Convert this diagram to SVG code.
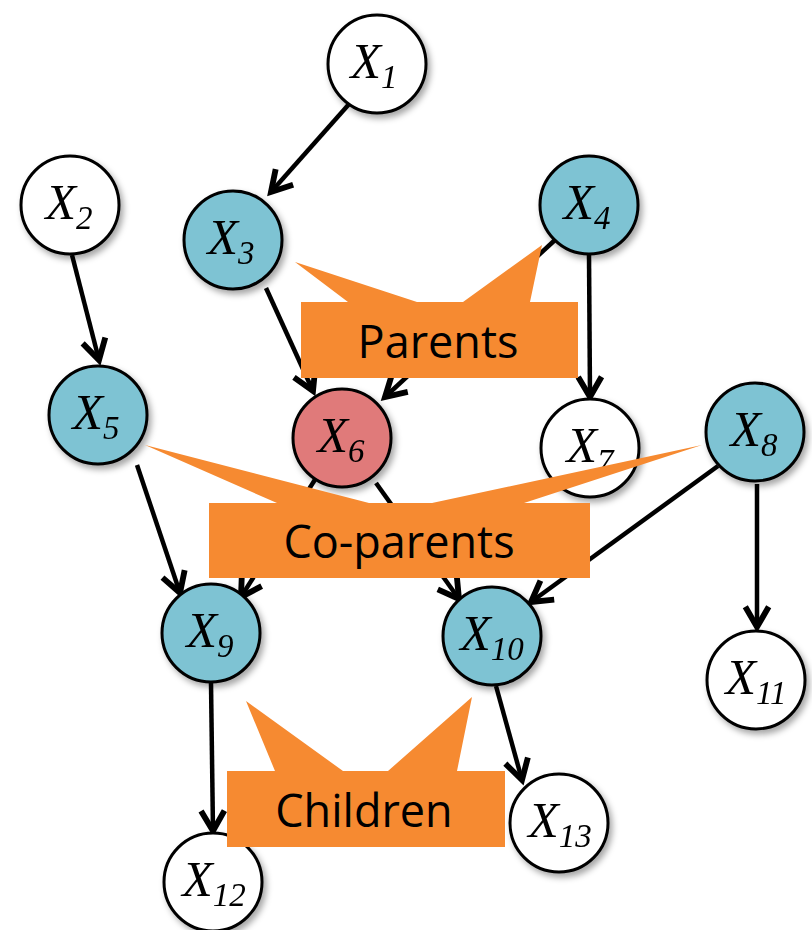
<svg xmlns="http://www.w3.org/2000/svg" width="812" height="930" viewBox="0 0 812 930">
  <defs>
    <style>
      .node circle { stroke: #000; stroke-width: 3; }
      .plain { fill: #ffffff; }
      .blanket { fill: #7ec3d3; }
      .target { fill: #e07a7a; }
      .lbl { font-family: "Liberation Serif", "Times New Roman", serif; font-style: italic; font-size: 50px; fill: #000; text-anchor: middle; }
      .sub { font-size: 33px; }
      .edges line { stroke: #000; stroke-width: 4.5; marker-end: url(#arrow); }
      .callout path { fill: #f68a31; }
      .callout text { font-family: "Open Sans", "Noto Sans", "DejaVu Sans", sans-serif; font-size: 45px; fill: #000; text-anchor: middle; }
    </style>
    <marker id="arrow" markerUnits="userSpaceOnUse" markerWidth="34" markerHeight="34" viewBox="-26 -16 32 32" refX="0" refY="0" orient="auto">
      <path d="M-19,-11 L0,0 L-19,11" fill="none" stroke="#000" stroke-width="5.5" stroke-linejoin="miter"/>
    </marker>
    <filter id="shadow" x="-30%" y="-30%" width="160%" height="160%">
      <feDropShadow dx="3" dy="4" stdDeviation="3" flood-color="#000" flood-opacity="0.35"/>
    </filter>
  </defs>

  <!-- directed edges -->
  <g id="edges" class="edges">
    <line x1="350" y1="103" x2="271" y2="192"/>
    <line x1="72" y1="255" x2="99" y2="360"/>
    <line x1="266" y1="288" x2="313" y2="391"/>
    <line x1="555" y1="240" x2="385" y2="397"/>
    <line x1="589" y1="255" x2="590" y2="397"/>
    <line x1="137" y1="465" x2="180" y2="593"/>
    <line x1="316" y1="478" x2="241" y2="597"/>
    <line x1="376" y1="483" x2="459" y2="599"/>
    <line x1="718" y1="466" x2="531" y2="602"/>
    <line x1="757" y1="484" x2="757" y2="627"/>
    <line x1="211" y1="683" x2="213" y2="831"/>
    <line x1="496" y1="686" x2="522" y2="780"/>
  </g>

  <!-- variables -->
  <g id="X1" class="node" filter="url(#shadow)"><circle class="plain" cx="377" cy="64" r="49"/>
    <text class="lbl" x="374" y="78">X<tspan class="sub" dy="10">1</tspan></text></g>
  <g id="X2" class="node" filter="url(#shadow)"><circle class="plain" cx="70" cy="205" r="49"/>
    <text class="lbl" x="69" y="219">X<tspan class="sub" dy="10">2</tspan></text></g>
  <g id="X3" class="node" filter="url(#shadow)"><circle class="blanket" cx="233" cy="240" r="49"/>
    <text class="lbl" x="231" y="254">X<tspan class="sub" dy="10">3</tspan></text></g>
  <g id="X4" class="node" filter="url(#shadow)"><circle class="blanket" cx="589" cy="205" r="49"/>
    <text class="lbl" x="587" y="219">X<tspan class="sub" dy="10">4</tspan></text></g>
  <g id="X5" class="node" filter="url(#shadow)"><circle class="blanket" cx="98" cy="415" r="49"/>
    <text class="lbl" x="96" y="429">X<tspan class="sub" dy="10">5</tspan></text></g>
  <g id="X6" class="node" filter="url(#shadow)"><circle class="target" cx="342" cy="438" r="49"/>
    <text class="lbl" x="341" y="452">X<tspan class="sub" dy="10">6</tspan></text></g>
  <g id="X7" class="node" filter="url(#shadow)"><circle class="plain" cx="590" cy="448" r="49"/>
    <text class="lbl" x="590" y="462">X<tspan class="sub" dy="10">7</tspan></text></g>
  <g id="X8" class="node" filter="url(#shadow)"><circle class="blanket" cx="755" cy="432" r="49"/>
    <text class="lbl" x="754" y="446">X<tspan class="sub" dy="10">8</tspan></text></g>
  <g id="X9" class="node" filter="url(#shadow)"><circle class="blanket" cx="211" cy="633" r="49"/>
    <text class="lbl" x="210" y="647">X<tspan class="sub" dy="10">9</tspan></text></g>
  <g id="X10" class="node" filter="url(#shadow)"><circle class="blanket" cx="492" cy="636" r="49"/>
    <text class="lbl" x="492" y="650">X<tspan class="sub" dy="10">10</tspan></text></g>
  <g id="X11" class="node" filter="url(#shadow)"><circle class="plain" cx="756" cy="680" r="49"/>
    <text class="lbl" x="756" y="694">X<tspan class="sub" dy="10">11</tspan></text></g>
  <g id="X12" class="node" filter="url(#shadow)"><circle class="plain" cx="213" cy="882" r="49"/>
    <text class="lbl" x="214" y="896">X<tspan class="sub" dy="10">12</tspan></text></g>
  <g id="X13" class="node" filter="url(#shadow)"><circle class="plain" cx="559" cy="823" r="49"/>
    <text class="lbl" x="560" y="837">X<tspan class="sub" dy="10">13</tspan></text></g>

  <!-- callout labels -->
  <g id="parents" class="callout">
    <path d="M301,302 L348,302 L295,262 L417,302 L463,302 L542,245 L530,302 L578,302 L578,378 L301,378 Z"/>
    <text x="438" y="358">Parents</text>
  </g>
  <g id="coparents" class="callout">
    <path d="M209,503 L277,503 L145,445 L369,503 L432,503 L702,445 L524,503 L590,503 L590,578 L209,578 Z"/>
    <text x="399" y="558">Co-parents</text>
  </g>
  <g id="children" class="callout">
    <path d="M227,771 L275,771 L246,701 L343,771 L388,771 L472,697 L457,771 L505,771 L505,847 L227,847 Z"/>
    <text x="364" y="827">Children</text>
  </g>
</svg>
